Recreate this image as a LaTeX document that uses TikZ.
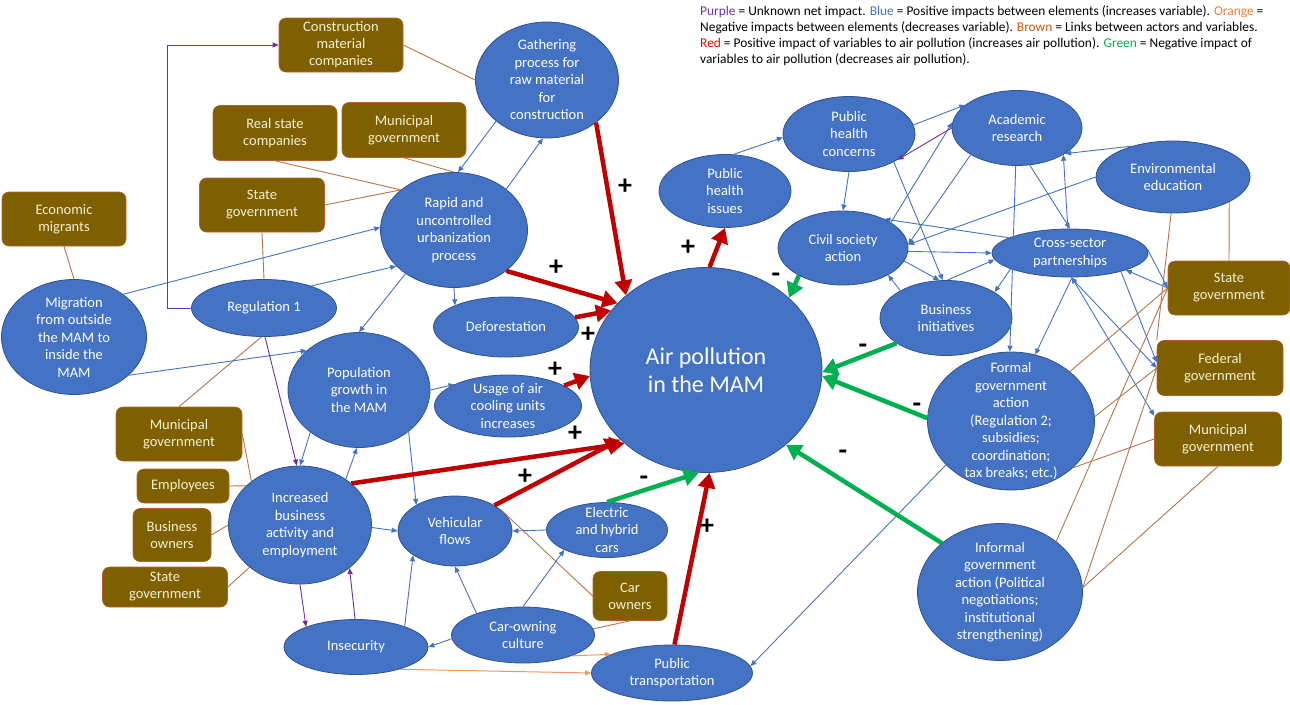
\documentclass[tikz,border=0pt]{standalone}
\usepackage{fontspec}
\setmainfont{Carlito}
\usetikzlibrary{shapes.geometric,arrows.meta}
\definecolor{ellblue}{HTML}{4472C4}
\definecolor{ellline}{HTML}{2F528F}
\definecolor{actorfill}{HTML}{7F6000}
\definecolor{actorline}{HTML}{B8602E}
\definecolor{actortext}{HTML}{F4F0D6}
\definecolor{posred}{HTML}{C00000}
\definecolor{neggreen}{HTML}{00B050}
\definecolor{linkbrown}{HTML}{B5744A}
\definecolor{unkpurple}{HTML}{7030A0}
\definecolor{negorange}{HTML}{ED7D31}
\definecolor{legbrown}{HTML}{C55A11}
\tikzset{
  ell/.style={ellipse, draw=ellline, fill=ellblue, line width=0.8pt, inner sep=0pt},
  etxt/.style={text=white, align=center, inner sep=0pt, font=\fontsize{14.5}{17.5}\selectfont},
  actor/.style={rectangle, rounded corners=7pt, draw=actorline, fill=actorfill, line width=0.6pt,
    text=actortext, align=center, inner sep=1pt, font=\fontsize{14.5}{17}\selectfont},
  blueimp/.style={draw=ellblue, line width=0.9pt, -{Triangle[length=6pt,width=5pt]}},
  purpleimp/.style={draw=unkpurple, line width=0.9pt, -{Triangle[length=6pt,width=5pt]}},
  orangeimp/.style={draw=negorange!80, line width=1pt, -{Triangle[length=6pt,width=5pt]}},
  brownlink/.style={draw=linkbrown, line width=0.9pt},
  redimp/.style={draw=posred, line width=4.5pt, -{Triangle[length=15pt,width=17pt]}},
  greenimp/.style={draw=neggreen, line width=4.5pt, -{Triangle[length=15pt,width=17pt]}},
  signtxt/.style={inner sep=0pt, font=\fontsize{28}{28}\bfseries\selectfont},
  legendtxt/.style={align=left, inner sep=0pt, font=\fontsize{13.4}{16}\selectfont}
}
\begin{document}
\begin{tikzpicture}[x=1pt,y=-1pt]
\useasboundingbox (0,0) rectangle (1290,704);

\node[legendtxt, anchor=north west] (legend) at (700,5) {%
\textcolor{unkpurple}{Purple} = Unknown net impact. \textcolor{ellblue}{Blue} = Positive impacts between elements (increases variable). \textcolor{negorange}{Orange} =\\
Negative impacts between elements (decreases variable). \textcolor{legbrown}{Brown} = Links between actors and variables.\\
\textcolor{red}{Red} = Positive impact of variables to air pollution (increases air pollution). \textcolor{neggreen}{Green} = Negative impact of\\
variables to air pollution (decreases air pollution).};

% actors
\node[actor, minimum width=124pt, minimum height=54pt] (cmc) at (341,45) {Construction\\material\\companies};
\node[actor, minimum width=124pt, minimum height=55pt] (rsc) at (275,133) {Real state\\companies};
\node[actor, minimum width=124pt, minimum height=55pt] (munt) at (404,130) {Municipal\\government};
\node[actor, minimum width=125pt, minimum height=54pt] (statt) at (262,205) {State\\government};
\node[actor, minimum width=124pt, minimum height=54pt] (econ) at (64,219) {Economic\\migrants};
\node[actor, minimum width=126pt, minimum height=54pt] (munl) at (179,434) {Municipal\\government};
\node[actor, minimum width=92pt, minimum height=34pt] (empl) at (183,486) {Employees};
\node[actor, minimum width=78pt, minimum height=53pt] (bown) at (172,535) {Business\\owners};
\node[actor, minimum width=125pt, minimum height=40pt] (statl) at (165,587) {State\\government};
\node[actor, minimum width=74pt, minimum height=49pt] (cown) at (630,596) {Car\\owners};
\node[actor, minimum width=122pt, minimum height=54pt] (statr) at (1229,288) {State\\government};
\node[actor, minimum width=126pt, minimum height=55pt] (fed) at (1220,368) {Federal\\government};
\node[actor, minimum width=127pt, minimum height=54pt] (munr) at (1218,439) {Municipal\\government};

% variables
\node[ell, minimum width=143pt, minimum height=116pt, label={[etxt]center:{Gathering\\process for\\raw material\\for\\construction}}] (gath) at (547,80) {};
\node[ell, minimum width=147pt, minimum height=115pt, label={[etxt]center:{Rapid and\\uncontrolled\\urbanization\\process}}] (rapid) at (454,230) {};
\node[ell, minimum width=145pt, minimum height=115pt, label={[etxt]center:{Migration\\from outside\\the MAM to\\inside the\\MAM}}] (migr) at (74,337) {};
\node[ell, minimum width=145pt, minimum height=57pt, label={[etxt]center:{Regulation 1}}] (reg) at (264,308) {};
\node[ell, minimum width=145pt, minimum height=60pt, label={[etxt]center:{Deforestation}}] (defor) at (506,327) {};
\node[ell, minimum width=142pt, minimum height=115pt, label={[etxt]center:{Population\\growth in\\the MAM}}] (pop) at (359,390) {};
\node[ell, minimum width=147pt, minimum height=62pt, label={[etxt]center:{Usage of air\\cooling units\\increases}}] (usage) at (508,406) {};
\node[ell, minimum width=232pt, minimum height=205pt, label={[etxt, font=\fontsize{24}{28}\selectfont]center:{Air pollution\\in the MAM}}] (air) at (706,370) {};
\node[ell, minimum width=132pt, minimum height=73pt, label={[etxt]center:{Public\\health\\issues}}] (phi) at (725,191) {};
\node[ell, minimum width=132pt, minimum height=75pt, label={[etxt]center:{Public\\health\\concerns}}] (phc) at (849,134) {};
\node[ell, minimum width=130pt, minimum height=75pt, label={[etxt]center:{Academic\\research}}] (acad) at (1017,128) {};
\node[ell, minimum width=154pt, minimum height=72pt, label={[etxt]center:{Environmental\\education}}] (env) at (1173,177) {};
\node[ell, minimum width=130pt, minimum height=74pt, label={[etxt]center:{Civil society\\action}}] (civ) at (843,248) {};
\node[ell, minimum width=156pt, minimum height=48pt, label={[etxt]center:{Cross-sector\\partnerships}}] (cross) at (1070,253) {};
\node[ell, minimum width=132pt, minimum height=75pt, label={[etxt]center:{Business\\initiatives}}] (binit) at (946,318) {};
\node[ell, minimum width=167pt, minimum height=138pt, label={[etxt]center:{Formal\\government\\action\\(Regulation 2;\\subsidies;\\coordination;\\tax breaks; etc.)}}] (formal) at (1011,421) {};
\node[ell, minimum width=165pt, minimum height=137pt, label={[etxt]center:{Informal\\government\\action (Political\\negotiations;\\institutional\\strengthening)}}] (informal) at (1000,592) {};
\node[ell, minimum width=143pt, minimum height=118pt, label={[etxt]center:{Increased\\business\\activity and\\employment}}] (incb) at (300,525) {};
\node[ell, minimum width=114pt, minimum height=70pt, label={[etxt]center:{Vehicular\\flows}}] (vehic) at (455,531) {};
\node[ell, minimum width=121pt, minimum height=55pt, label={[etxt]center:{Electric\\and hybrid\\cars}}] (elec) at (607,530) {};
\node[ell, minimum width=144pt, minimum height=55pt, label={[etxt]center:{Insecurity}}] (insec) at (356,647) {};
\node[ell, minimum width=143pt, minimum height=56pt, label={[etxt]center:{Car-owning\\culture}}] (carcul) at (523,635) {};
\node[ell, minimum width=161pt, minimum height=56pt, label={[etxt]center:{Public\\transportation}}] (pubt) at (672,673) {};

% links between actors and variables
\foreach \a/\b in {cmc.east/gath.180, rsc.south/rapid.143, statt.east/rapid.143, munt.south/rapid.90,
  econ.south/migr.90, statt.south/reg.90, reg.-95/munl.north, munl.east/incb.138, empl.east/incb.144,
  bown.east/incb.180, statl.east/incb.220, cown.west/vehic.25, cown.south/carcul.5,
  env.-24/statr.north, env.-93/fed.north west, statr.west/formal.40, statr.west/informal.42,
  fed.west/formal.3, fed.west/informal.3, munr.west/formal.-37, munr.south/informal.3}
{
\draw[brownlink] (\a) -- (\b);
}

% positive impacts between elements
\foreach \a/\b in {gath.219/rapid.86, rapid.38/gath.-94, migr.41/rapid.178, reg.25/rapid.212,
  rapid.222/pop.90, rapid.-90/defor.157, migr.-35/pop.143, pop.0/usage.158, pop.-40/vehic.146,
  incb.45/pop.-92, pop.221/incb.90, incb.-2/vehic.180, insec.23/vehic.210, carcul.183/insec.0,
  carcul.155/vehic.-90, carcul.90/elec.205, elec.180/vehic.0, formal.214/pubt.5,
  phi.77/phc.183, phc.-90/civ.90, phc.8/acad.156, phc.-32/binit.95, civ.28/acad.175,
  acad.210/civ.3, env.180/civ.3, env.143/acad.-28, acad.-71/cross.90, cross.95/acad.-30,
  acad.-92/formal.91, civ.-3/cross.180, cross.166/civ.35, civ.-12/binit.100, binit.149/civ.-31,
  binit.88/cross.185, cross.195/binit.28, cross.-85/formal.70, cross.3/statr.west,
  statr.west/cross.-17, cross.-20/fed.175}
{
\draw[blueimp] (\a) -- (\b);
}
\draw[blueimp, {Triangle[length=6pt,width=5pt]}-{Triangle[length=6pt,width=5pt]}] (cross.-88) -- (fed.west);
\draw[blueimp, {Triangle[length=6pt,width=5pt]}-{Triangle[length=6pt,width=5pt]}] (cross.-86) -- (munr.160);

% negative and unknown impacts
\draw[orangeimp] (insec.-27) -- (pubt.180);
\draw[orangeimp] (carcul.-23) -- (pubt.163);
\draw[purpleimp] (reg.west) -- ++(-24,0) |- (cmc.west);
\draw[purpleimp] (reg.-88) -- (incb.93);
\draw[purpleimp] (incb.-90) -- (insec.158);
\draw[purpleimp] (insec.92) -- (incb.-41);
\draw[purpleimp] (acad.180) -- (phc.-28);

% impacts on air pollution
\draw[redimp] (gath.-41) -- (air.137);
\draw[redimp] (rapid.-38) -- (air.143);
\draw[redimp] (defor.8) -- (air.148);
\draw[redimp] (usage.20) -- (air.183);
\draw[redimp] (incb.39) -- (air.222);
\draw[redimp] (vehic.33) -- (air.219);
\draw[redimp] (pubt.85) -- (air.-88);
\draw[redimp] (air.88) -- (phi.-90);
\draw[greenimp] (civ.212) -- (air.41);
\draw[greenimp] (binit.207) -- (air.-1);
\draw[greenimp] (formal.178) -- (air.-3);
\draw[greenimp] (informal.140) -- (air.-43);
\draw[greenimp] (elec.90) -- (air.-94);

\node[signtxt] (sgath) at (625,187) {+};
\node[signtxt] (srapid) at (556,268) {+};
\node[signtxt] (sdefor) at (588,335) {+};
\node[signtxt] (susage) at (555,370) {+};
\node[signtxt] (sincb) at (575,434) {+};
\node[signtxt] (svehic) at (525,477) {+};
\node[signtxt] (spubt) at (707,527) {+};
\node[signtxt] (sphi) at (688,248) {+};
\node[signtxt] (sciv) at (776,278) {-};
\node[signtxt] (sbinit) at (863,349) {-};
\node[signtxt] (sformal) at (917,408) {-};
\node[signtxt] (sinformal) at (843,455) {-};
\node[signtxt] (selec) at (644,481) {-};
\end{tikzpicture}
\end{document}
